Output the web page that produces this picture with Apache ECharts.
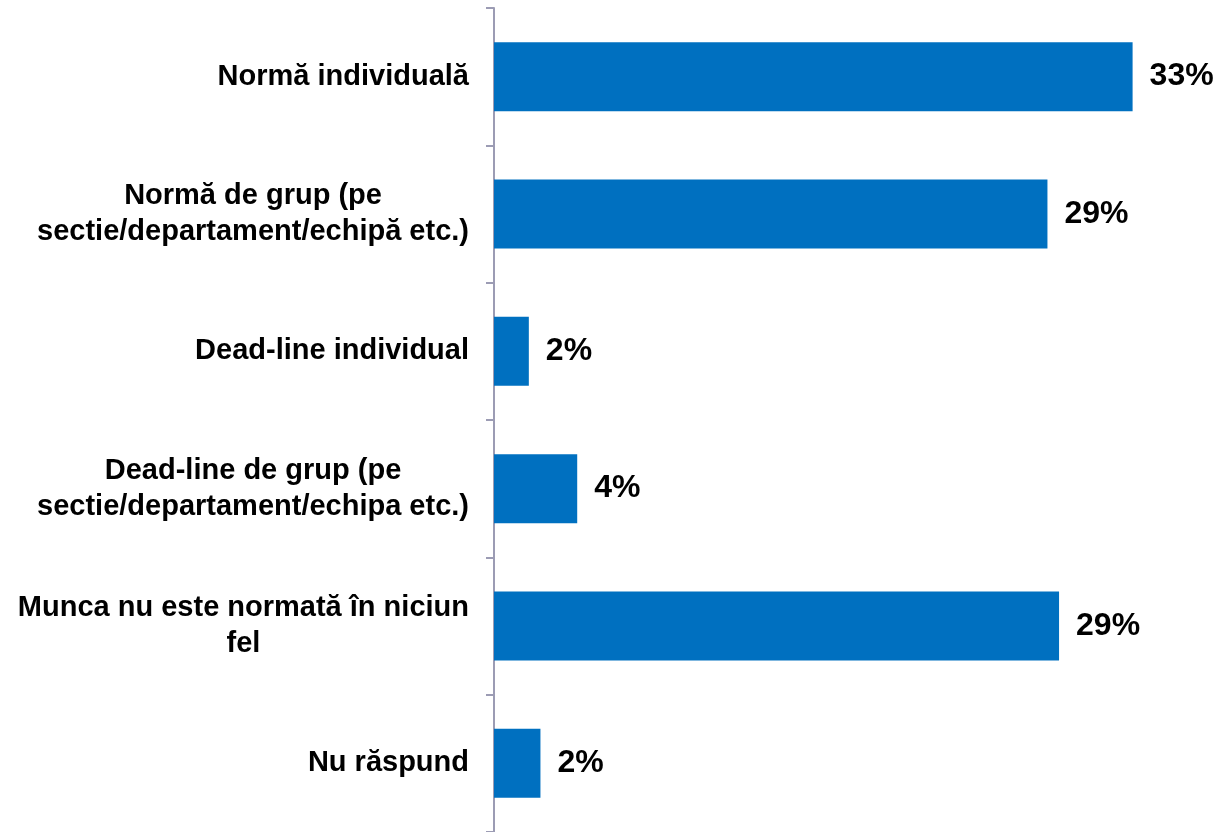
<!DOCTYPE html>
<html>
<head>
<meta charset="utf-8">
<script src="https://cdn.jsdelivr.net/npm/echarts@6/dist/echarts.min.js"></script>
<style>
  html, body { margin: 0; padding: 0; background: #fff; }
  #main { width: 1218px; height: 832px; }
</style>
</head>
<body>
<div id="main"></div>
<script>
var categories = [
  'Normă individuală',
  'Normă de grup (pe\nsectie/departament/echipă etc.)',
  'Dead-line individual',
  'Dead-line de grup (pe\nsectie/departament/echipa etc.)',
  'Munca nu este normată în niciun\nfel',
  'Nu răspund'
];
var values = [33.0, 28.6, 1.8, 4.3, 29.2, 2.4];

var myChart = echarts.init(document.getElementById('main'));

// fiecare rand centrat in blocul aliniat la dreapta
var centerLines = function (txt) {
  return txt.split('\n').map(function (l) { return '{c|' + l + '}'; }).join('\n');
};

var option = {
  animation: false,
  backgroundColor: '#ffffff',
  grid: { left: 494, top: 8, width: 716, height: 825 },
  xAxis: {
    type: 'value',
    min: 0,
    max: 37,
    show: false
  },
  yAxis: {
    type: 'category',
    inverse: true,
    data: categories,
    axisLine: { show: true, lineStyle: { color: '#9C9CB4', width: 2 } },
    axisTick: { show: true, length: 8, lineStyle: { color: '#9C9CB4', width: 2 } },
    splitLine: { show: false },
    axisLabel: {
      margin: 25,
      align: 'right',
      formatter: centerLines,
      rich: {
        c: {
          align: 'center',
          fontFamily: 'Liberation Sans, Arial, sans-serif',
          fontWeight: 'bold',
          fontSize: 29,
          lineHeight: 36,
          color: '#000'
        }
      }
    }
  },
  series: [{
    type: 'bar',
    data: values,
    barWidth: 69,
    itemStyle: { color: '#0070C0' },
    label: {
      show: true,
      position: 'right',
      distance: 17,
      fontFamily: 'Liberation Sans, Arial, sans-serif',
      fontWeight: 'bold',
      fontSize: 32,
      color: '#000',
      formatter: function (p) { return Math.round(p.value) + '%'; }
    }
  }]
};

myChart.setOption(option);
</script>
</body>
</html>
